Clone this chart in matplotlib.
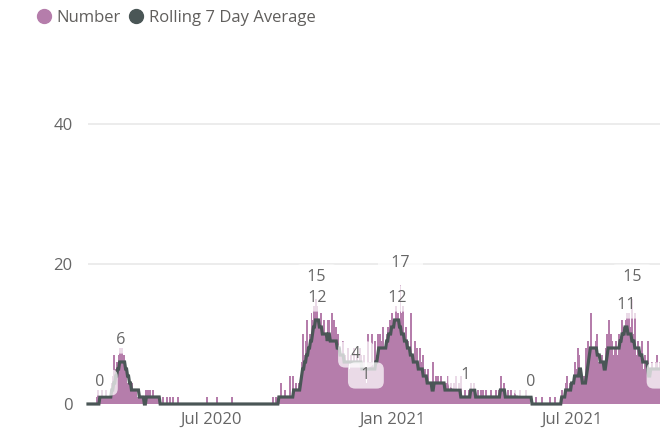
import matplotlib.pyplot as plt
import matplotlib.dates as mdates
from matplotlib.lines import Line2D
import pandas as pd

# daily counts from 28 Feb 2020, one row per month
start_date = '2020-02-28'
number = [
    0, 0,  # Feb 2020
    0, 0, 0, 0, 0, 0, 0, 1, 2, 1, 0, 1, 2, 1, 0, 1, 2, 1, 1, 0, 1, 2, 3, 4, 7, 5, 3, 6, 5, 7, 8,  # Mar
    7, 8, 6, 7, 4, 5, 3, 2, 3, 1, 2, 3, 1, 2, 2, 1, 2, 0, 1, 2, 1, 0, 1, 0, 0, 0, 2, 0, 2, 0,  # Apr
    2, 0, 1, 2, 0, 1, 1, 0, 1, 0, 0, 0, 0, 1, 0, 0, 0, 1, 0, 0, 1, 0, 0, 1, 0, 0, 0, 0, 1, 0, 0,  # May
    0, 0, 0, 0, 0, 0, 0, 0, 0, 0, 0, 0, 0, 0, 0, 0, 0, 0, 0, 0, 0, 0, 0, 0, 0, 0, 1, 0, 0, 0,  # Jun
    0, 0, 0, 0, 0, 0, 1, 0, 0, 0, 0, 0, 0, 0, 0, 0, 0, 0, 0, 0, 0, 0, 1, 0, 0, 0, 0, 0, 0, 0, 0,  # Jul
    0, 0, 0, 0, 0, 0, 0, 0, 0, 0, 0, 0, 0, 0, 0, 0, 0, 0, 0, 0, 0, 0, 0, 0, 0, 0, 0, 0, 0, 0, 0,  # Aug
    0, 1, 0, 0, 1, 0, 0, 1, 0, 3, 1, 0, 1, 2, 0, 1, 1, 0, 4, 1, 1, 4, 1, 2, 3, 2, 1, 3, 2, 4,  # Sep
    6, 10, 4, 7, 9, 12, 5, 8, 10, 7, 13, 12, 9, 14, 11, 15, 14, 10, 12, 8, 13, 9, 11, 12, 7, 10, 8, 12, 12, 9, 7,  # Oct
    13, 8, 12, 9, 11, 7, 10, 6, 8, 7, 5, 9, 6, 7, 5, 6, 8, 5, 5, 7, 6, 5, 8, 6, 4, 7, 6, 5, 8, 7,  # Nov
    6, 4, 7, 5, 1, 3, 10, 3, 6, 4, 10, 5, 2, 9, 6, 7, 10, 8, 10, 7, 9, 11, 6, 8, 5, 10, 11, 9, 12, 10, 13,  # Dec
    9, 12, 10, 14, 11, 13, 12, 10, 17, 13, 9, 14, 8, 10, 11, 6, 9, 7, 8, 13, 5, 7, 4, 9, 6, 8, 5, 3, 8, 4, 6,  # Jan 2021
    7, 3, 5, 2, 4, 5, 2, 3, 1, 2, 6, 2, 3, 4, 2, 4, 3, 1, 4, 3, 2, 3, 1, 3, 2, 4, 1, 2,  # Feb
    3, 2, 1, 3, 2, 4, 1, 2, 3, 1, 4, 1, 0, 1, 2, 1, 0, 1, 2, 1, 3, 2, 1, 3, 2, 0, 1, 2, 1, 0, 2,  # Mar
    1, 2, 0, 1, 2, 1, 0, 1, 1, 0, 2, 1, 1, 0, 1, 2, 1, 0, 2, 2, 4, 2, 1, 3, 1, 0, 1, 2, 1, 0,  # Apr
    2, 1, 0, 1, 2, 0, 1, 1, 0, 2, 1, 0, 1, 1, 0, 2, 1, 0, 1, 0, 0, 0, 0, 0, 0, 1, 0, 0, 0, 0, 0,  # May
    1, 0, 0, 0, 0, 0, 0, 0, 1, 0, 0, 0, 0, 1, 0, 0, 0, 0, 0, 1, 2, 1, 0, 2, 3, 4, 1, 2, 3, 2,  # Jun
    3, 2, 4, 6, 3, 5, 8, 4, 7, 5, 2, 3, 1, 4, 3, 8, 6, 9, 8, 7, 13, 8, 6, 8, 5, 9, 10, 6, 4, 7, 5,  # Jul
    7, 6, 3, 5, 8, 10, 7, 12, 6, 10, 9, 7, 6, 8, 9, 7, 6, 10, 8, 9, 12, 10, 11, 9, 12, 13, 10, 13, 9, 11, 15,  # Aug
    10, 8, 13, 7, 6, 9, 5, 7, 6, 9, 4, 5, 7, 6, 3, 9, 4, 2, 5, 6, 4, 5, 3, 6, 7, 5, 4, 6, 3, 2,  # Sep
    4, 3, 1, 3, 2, 4,  # Oct
]

rolling_avg = [
    0, 0,  # Feb 2020
    0, 0, 0, 0, 0, 0, 0, 0, 0, 0, 1, 1, 1, 1, 1, 1, 1, 1, 1, 1, 1, 1, 2, 2, 3, 3, 4, 4, 5, 5, 6,  # Mar
    6, 6, 6, 6, 6, 5, 5, 4, 4, 3, 3, 2, 2, 2, 2, 2, 2, 2, 2, 1, 1, 1, 1, 1, 0, 0, 1, 1, 1, 1,  # Apr
    1, 1, 1, 1, 1, 1, 1, 1, 1, 1, 0, 0, 0, 0, 0, 0, 0, 0, 0, 0, 0, 0, 0, 0, 0, 0, 0, 0, 0, 0, 0,  # May
    0, 0, 0, 0, 0, 0, 0, 0, 0, 0, 0, 0, 0, 0, 0, 0, 0, 0, 0, 0, 0, 0, 0, 0, 0, 0, 0, 0, 0, 0,  # Jun
    0, 0, 0, 0, 0, 0, 0, 0, 0, 0, 0, 0, 0, 0, 0, 0, 0, 0, 0, 0, 0, 0, 0, 0, 0, 0, 0, 0, 0, 0, 0,  # Jul
    0, 0, 0, 0, 0, 0, 0, 0, 0, 0, 0, 0, 0, 0, 0, 0, 0, 0, 0, 0, 0, 0, 0, 0, 0, 0, 0, 0, 0, 0, 0,  # Aug
    0, 0, 0, 0, 0, 0, 0, 1, 1, 1, 1, 1, 1, 1, 1, 1, 1, 1, 1, 1, 1, 1, 2, 2, 2, 2, 2, 2, 2, 3,  # Sep
    4, 5, 5, 6, 6, 7, 7, 8, 8, 9, 9, 10, 11, 11, 12, 12, 12, 12, 11, 11, 11, 10, 10, 10, 10, 10, 9, 10, 10, 9, 9,  # Oct
    9, 9, 9, 9, 9, 8, 8, 8, 7, 7, 7, 7, 6, 6, 6, 6, 6, 6, 6, 6, 6, 6, 6, 6, 6, 6, 6, 6, 6, 6,  # Nov
    5, 5, 5, 5, 5, 5, 5, 5, 5, 5, 5, 5, 5, 5, 6, 6, 7, 8, 8, 8, 8, 8, 8, 8, 8, 9, 9, 10, 10, 10, 11,  # Dec
    11, 11, 12, 12, 12, 12, 12, 11, 11, 10, 10, 10, 9, 9, 9, 8, 8, 8, 7, 7, 7, 6, 6, 6, 6, 6, 5, 5, 5, 5, 5,  # Jan 2021
    4, 4, 4, 4, 3, 3, 3, 3, 3, 2, 2, 3, 3, 3, 3, 3, 3, 3, 3, 3, 3, 3, 2, 2, 2, 2, 2, 2,  # Feb
    2, 2, 2, 2, 2, 2, 2, 2, 2, 2, 1, 1, 1, 1, 1, 1, 1, 1, 1, 1, 2, 2, 2, 2, 2, 1, 1, 1, 1, 1, 1,  # Mar
    1, 1, 1, 1, 1, 1, 1, 1, 1, 1, 1, 1, 1, 1, 1, 1, 1, 1, 1, 2, 2, 2, 2, 2, 1, 1, 1, 1, 1, 1,  # Apr
    1, 1, 1, 1, 1, 1, 1, 1, 1, 1, 1, 1, 1, 1, 1, 1, 1, 1, 1, 1, 1, 0, 0, 0, 0, 0, 0, 0, 0, 0, 0,  # May
    0, 0, 0, 0, 0, 0, 0, 0, 0, 0, 0, 0, 0, 0, 0, 0, 0, 0, 0, 0, 1, 1, 1, 1, 2, 2, 2, 2, 2, 2,  # Jun
    3, 3, 3, 4, 4, 4, 4, 4, 5, 5, 4, 3, 3, 3, 3, 4, 5, 6, 7, 8, 8, 8, 8, 8, 8, 8, 7, 7, 7, 6, 6,  # Jul
    6, 6, 5, 5, 6, 7, 8, 8, 8, 8, 8, 8, 8, 8, 8, 8, 8, 8, 9, 9, 10, 10, 10, 11, 11, 11, 10, 10, 10, 10, 9,  # Aug
    9, 9, 8, 8, 8, 8, 8, 7, 7, 7, 6, 6, 6, 6, 6, 5, 4, 4, 5, 5, 5, 5, 5, 5, 5, 5, 5, 5, 5, 5,  # Sep
    5, 5, 4, 4, 4, 4,  # Oct
]

# days that carry a data label
number_label_dates = ['2020-03-11', '2020-10-16', '2020-11-25', '2020-12-05', '2021-01-09',
                      '2021-03-16', '2021-05-21', '2021-08-31', '2021-10-03']
rolling_label_dates = ['2020-04-01', '2020-10-17', '2021-01-06', '2021-08-25']

y_ticks = [0, 20, 40]
x_ticks = ['2020-07-01', '2021-01-01', '2021-07-01']

BAR_COLOR = '#B57DAB'
LINE_COLOR = '#4A5656'
TEXT_COLOR = '#666666'

dates = pd.date_range(start_date, periods=len(number), freq='D')
df = pd.DataFrame({'number': number, 'rolling': rolling_avg}, index=dates)

plt.rcParams['font.family'] = ['Open Sans', 'DejaVu Sans']

fig = plt.figure(figsize=(6.6, 4.33), dpi=100)
ax = fig.add_axes([88 / 660, 29 / 433, 572 / 660, 350 / 433])

# each day is about one pixel wide: no snapping and no antialiasing keeps the bars solid
ax.bar(df.index, df['number'], width=1.0, color=BAR_COLOR, linewidth=0, zorder=2,
       snap=False, antialiased=False)
ax.plot(df.index, df['rolling'], color=LINE_COLOR, lw=2.3, zorder=3, clip_on=False,
        solid_joinstyle='miter')

# labels with a soft white box, like the report's data labels
label_box = dict(boxstyle='round,pad=0.32,rounding_size=0.45', fc='white', ec='none', alpha=0.72)
for series, label_dates in (('number', number_label_dates), ('rolling', rolling_label_dates)):
    for d in label_dates:
        v = df.loc[pd.Timestamp(d), series]
        ax.annotate(f'  {v}  ', (pd.Timestamp(d), v), xytext=(0, 15.5), textcoords='offset points',
                    ha='center', va='center', fontsize=11.5, color=TEXT_COLOR, bbox=label_box,
                    zorder=5, annotation_clip=False)

start = pd.Timestamp(start_date)
ax.set_xlim(start, start + pd.Timedelta(days=578.4))
ax.set_ylim(0, 50)

ax.set_yticks(y_ticks)
ax.set_xticks(pd.to_datetime(x_ticks))
ax.xaxis.set_major_formatter(mdates.DateFormatter('%b %Y'))
ax.tick_params(axis='both', length=0, labelsize=12, colors=TEXT_COLOR)
ax.tick_params(axis='y', pad=11)
ax.tick_params(axis='x', pad=6)
ax.grid(axis='y', color='#EAEAEA', lw=1.3, zorder=0)
ax.grid(axis='x', visible=False)
for s in ax.spines.values():
    s.set_visible(False)

handles = [Line2D([], [], marker='o', ls='', color=BAR_COLOR, markersize=10, label='Number'),
           Line2D([], [], marker='o', ls='', color=LINE_COLOR, markersize=10, label='Rolling 7 Day Average')]
fig.legend(handles=handles, loc='upper left', bbox_to_anchor=(36 / 660, 1 - 10 / 433), ncol=2,
           frameon=False, handletextpad=0.3, columnspacing=0.5, handlelength=0.9,
           borderpad=0, borderaxespad=0, fontsize=12, labelcolor='#605E5C')

fig.savefig('out.png', dpi=100)
